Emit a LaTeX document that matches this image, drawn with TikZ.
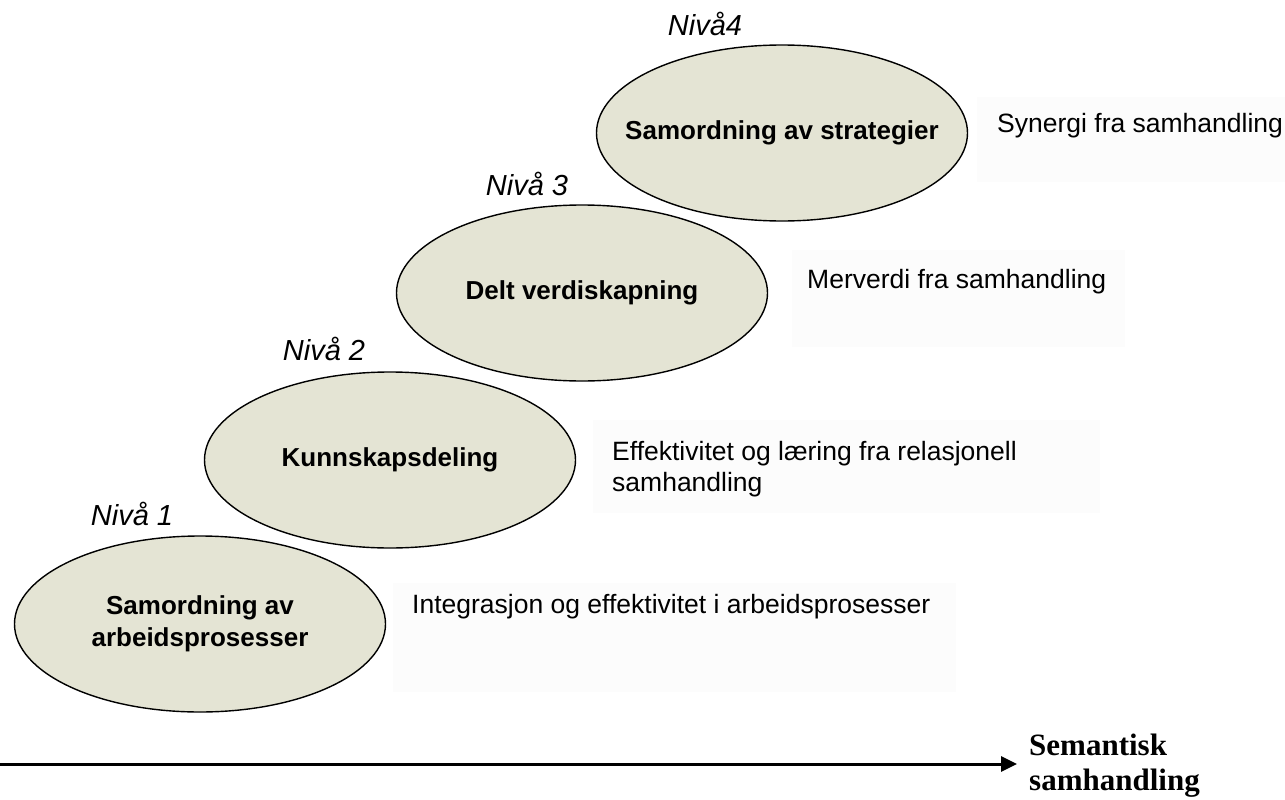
\documentclass[tikz,border=0pt]{standalone}
\usepackage{fontspec}
\setmainfont{Liberation Sans}
\newfontfamily\serifbold{Liberation Serif}
\usetikzlibrary{shapes.geometric,arrows.meta}
\definecolor{ellfill}{RGB}{228,228,212}
\definecolor{boxfill}{RGB}{252,252,252}
\newcommand{\ellipsetext}[1]{\makebox[0pt]{\begin{tabular}{@{}c@{}}#1\end{tabular}}}
\begin{document}
\begin{tikzpicture}[x=1pt,y=-1pt,
  level/.style={ellipse,draw=black,line width=1.4pt,fill=ellfill,minimum width=371pt,minimum height=176pt,inner sep=0pt,font=\fontsize{26}{32}\selectfont\bfseries},
  nivaa/.style={font=\fontsize{29}{34}\selectfont\itshape,inner sep=0pt},
  gain/.style={font=\fontsize{26.5}{31}\selectfont,inner sep=0pt,anchor=west,align=left},
  gainbox/.style={fill=boxfill,draw=none},
  axis/.style={line width=3pt,-{Triangle[length=16pt,width=15pt]}}
]
\useasboundingbox (0,0) rectangle (1285,800);
\fill[white] (0,0) rectangle (1285,800);

% faint backgrounds of the text boxes
\fill[gainbox] (977,97) rectangle (1285,182);
\fill[gainbox] (792,250) rectangle (1125,347);
\fill[gainbox] (593,420) rectangle (1100,513);
\fill[gainbox] (393,583) rectangle (956,692);

% levels
\node[level] (e1) at (200,624) {\ellipsetext{Samordning av\\arbeidsprosesser}};
\node[level] (e2) at (390,460) {\ellipsetext{Kunnskapsdeling}};
\node[level] (e3) at (582,293) {\ellipsetext{Delt verdiskapning}};
\node[level] (e4) at (782,133) {\ellipsetext{Samordning av strategier}};

% level labels
\node[nivaa] (n1) at (132,514) {Nivå 1};
\node[nivaa] (n2) at (324,349) {Nivå 2};
\node[nivaa] (n3) at (527,184) {Nivå 3};
\node[nivaa] (n4) at (705,24) {Nivå4};

% gains
\node[gain] (g4) at (997,126) {Synergi fra samhandling};
\node[gain] (g3) at (807,282) {Merverdi fra samhandling};
\node[gain] (g2) at (612,469) {Effektivitet og læring fra relasjonell\\samhandling};
\node[gain] (g1) at (412,607) {Integrasjon og effektivitet i arbeidsprosesser};

% axis
\coordinate (a0) at (0,764);
\coordinate (a1) at (1017,764);
\draw[axis] (a0) -- (a1);
\node[anchor=west,inner sep=0pt,align=left,font=\fontsize{31}{35}\selectfont\serifbold\bfseries] (sem) at (1029,766) {Semantisk\\samhandling};
\end{tikzpicture}
\end{document}
